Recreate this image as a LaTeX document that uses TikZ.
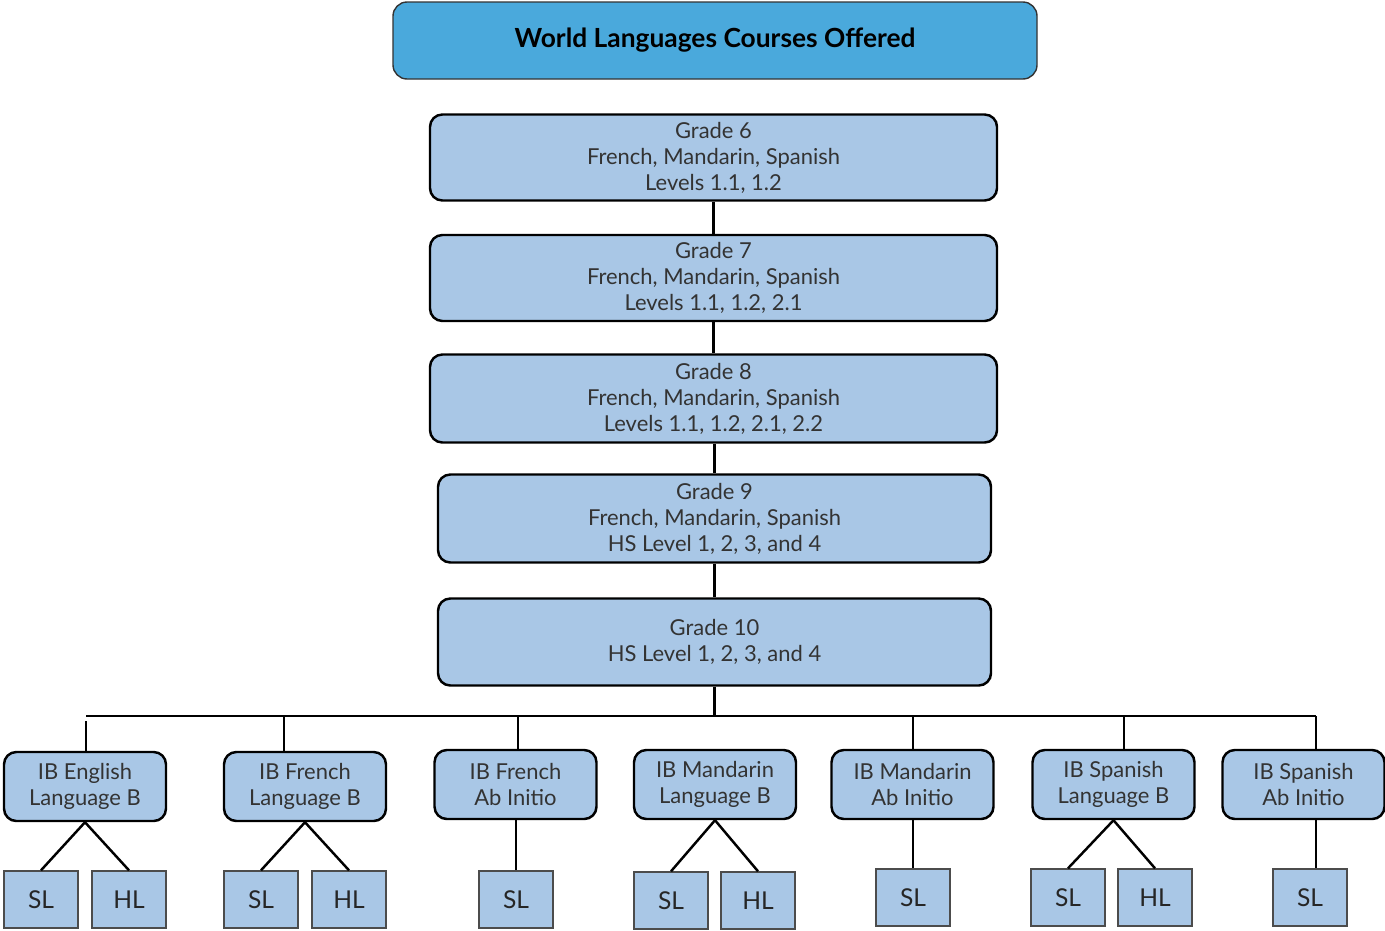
\documentclass[tikz,border=0pt]{standalone}
\usepackage{fontspec}
\setmainfont{Lato}
\usetikzlibrary{positioning}
\definecolor{titleblue}{HTML}{4AA9DC}
\definecolor{boxblue}{HTML}{A9C7E6}
\definecolor{textgray}{HTML}{333333}

\begin{document}
\begin{tikzpicture}[x=0.02cm, y=-0.02cm,
	headbox/.style={rectangle, rounded corners=8pt, draw=black!80, line width=0.8pt, fill=titleblue,
		font=\bfseries\fontsize{15}{18}\selectfont, minimum width=644*0.02cm, minimum height=77*0.02cm},
	gradebox/.style={rectangle, rounded corners=7pt, draw=black, line width=1.4pt, fill=boxblue,
		text=textgray, align=center, font=\fontsize{12.5}{14.8}\selectfont,
		minimum width=567*0.02cm, minimum height=86*0.02cm},
	ibbox/.style={rectangle, rounded corners=7pt, draw=black, line width=1.4pt, fill=boxblue,
		text=textgray, align=center, font=\fontsize{12.5}{15.2}\selectfont,
		minimum width=162*0.02cm, minimum height=69*0.02cm},
	lvlbox/.style={rectangle, draw=black!70, line width=0.8pt, fill=boxblue, text=black!85,
		font=\fontsize{14}{16}\selectfont, minimum width=74*0.02cm, minimum height=57*0.02cm},
	link/.style={line width=1.4pt}
]
	\useasboundingbox (0,0) rectangle (1385,930);

	\node[headbox] (title) at (715,40.5) {World Languages Courses Offered};

	\node[gradebox] (g6) at (713.5,157.5) {Grade 6\\French, Mandarin, Spanish\\Levels 1.1, 1.2};
	\node[gradebox] (g7) at (713.5,278) {Grade 7\\French, Mandarin, Spanish\\Levels 1.1, 1.2, 2.1};
	\node[gradebox, minimum height=88*0.02cm] (g8) at (713.5,398.5) {Grade 8\\French, Mandarin, Spanish\\Levels 1.1, 1.2, 2.1, 2.2};
	\node[gradebox, minimum width=553*0.02cm, minimum height=88*0.02cm] (g9) at (714.5,518.5) {Grade 9\\French, Mandarin, Spanish\\HS Level 1, 2, 3, and 4};
	\node[gradebox, minimum width=553*0.02cm, minimum height=87*0.02cm] (g10) at (714.5,642) {Grade 10\\HS Level 1, 2, 3, and 4};

	\draw[link] (g6) -- (g7);
	\draw[link] (g7) -- (g8);
	\draw[link] (g9.north |- g8.south) -- (g9.north);
	\draw[link] (g9) -- (g10);

	\node[ibbox] (ibeng) at (85,786.5) {IB English\\Language B};
	\node[ibbox] (ibfrb) at (305,786.5) {IB French\\Language B};
	\node[ibbox] (ibfra) at (515.5,784.5) {IB French\\Ab Initio};
	\node[ibbox] (ibmab) at (715,784.5) {IB Mandarin\\Language B};
	\node[ibbox] (ibmaa) at (912.5,784.5) {IB Mandarin\\Ab Initio};
	\node[ibbox] (ibspb) at (1113.5,784.5) {IB Spanish\\Language B};
	\node[ibbox] (ibspa) at (1303.5,784.5) {IB Spanish\\Ab Initio};

	\coordinate (busl) at (86,716);
	\coordinate (busr) at (1316,716);
	\coordinate (d2) at (284,716);
	\coordinate (d3) at (518,716);
	\coordinate (d5) at (913,716);
	\coordinate (d6) at (1124,716);

	\draw[link] (busl) -- (busr);
	\draw[link] (g10.south) -- (g10.south |- busl);
	\draw[link] ([yshift=-0.1cm]busl) -- (busl |- ibeng.north);
	\draw[link] (d2) -- (d2 |- ibfrb.north);
	\draw[link] (d3) -- (d3 |- ibfra.north);
	\draw[link] (d5) -- (d5 |- ibmaa.north);
	\draw[link] (d6) -- (d6 |- ibspb.north);
	\draw[link] (busr) -- (busr |- ibspa.north);

	\node[lvlbox] (engsl) at (41,899.5) {SL};
	\node[lvlbox] (enghl) at (129,899.5) {HL};
	\node[lvlbox] (frbsl) at (261,899.5) {SL};
	\node[lvlbox] (frbhl) at (349,899.5) {HL};
	\node[lvlbox] (frasl) at (516,899.5) {SL};
	\node[lvlbox] (mabsl) at (671,900.5) {SL};
	\node[lvlbox] (mabhl) at (758,900.5) {HL};
	\node[lvlbox] (maasl) at (913,897.5) {SL};
	\node[lvlbox] (spbsl) at (1068,897.5) {SL};
	\node[lvlbox] (spbhl) at (1155,897.5) {HL};
	\node[lvlbox] (spasl) at (1310,897.5) {SL};

	\draw[link] (ibeng.south) -- (engsl.north);
	\draw[link] (ibeng.south) -- (enghl.north);
	\draw[link] (ibfrb.south) -- (frbsl.north);
	\draw[link] (ibfrb.south) -- (frbhl.north);
	\draw[link] (frasl.north |- ibfra.south) -- (frasl.north);
	\draw[link] (ibmab.south) -- (mabsl.north);
	\draw[link] (ibmab.south) -- (mabhl.north);
	\draw[link] (maasl.north |- ibmaa.south) -- (maasl.north);
	\draw[link] (ibspb.south) -- (spbsl.north);
	\draw[link] (ibspb.south) -- (spbhl.north);
	\draw[link] (busr |- ibspa.south) -- (busr |- spasl.north);
\end{tikzpicture}
\end{document}
